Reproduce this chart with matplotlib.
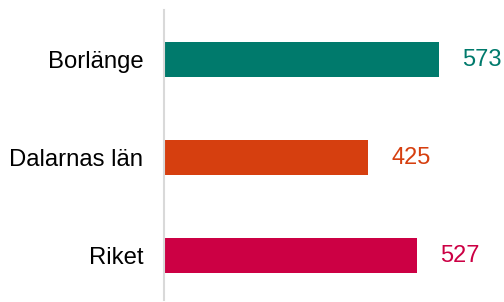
import matplotlib
matplotlib.use("Agg")
import matplotlib.pyplot as plt

categories = ["Borlänge", "Dalarnas län", "Riket"]
values = [573, 425, 527]
colors = ["#007a6c", "#d63f0f", "#cc0044"]

plt.rcParams['font.family'] = ['Liberation Sans', 'DejaVu Sans']

W, H = 504, 302
fig = plt.figure(figsize=(W/100, H/100), dpi=100)
ax_left = 164 / W
ax_top = 10 / H
ax_bottom = 300 / H
ax = fig.add_axes([ax_left, 1 - ax_bottom, 1 - ax_left, ax_bottom - ax_top])

ypos = list(range(len(categories)))
ax.barh(ypos, values, height=0.357, color=colors)
ax.set_xlim(0, (W - 164) / 0.48)
ax.set_ylim(2.45, -0.51)

for y, v, c in zip(ypos, values, colors):
    ax.annotate(str(v), xy=(v, y), xytext=(23, 0), textcoords="offset pixels",
                ha="left", va="center", color=c, fontsize=17)

ax.set_yticks(ypos)
ax.set_yticklabels(categories, fontsize=17.2, color="#000000")
ax.tick_params(axis="y", length=0, pad=15)
ax.set_xticks([])
for s in ["top", "right", "bottom"]:
    ax.spines[s].set_visible(False)
ax.spines["left"].set_color("#d9d9d9")
ax.spines["left"].set_linewidth(1.5)

fig.savefig("out.png", dpi=100)
